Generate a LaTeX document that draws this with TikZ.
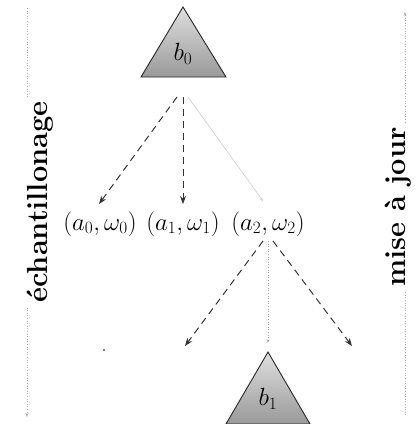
\documentclass[tikz,border=0pt]{standalone}
\usetikzlibrary{arrows.meta}
\begin{document}
\begin{tikzpicture}[x=1pt,y=-1pt,
  tri/.style={draw=black!85,line width=0.9pt,top color=gray!25,bottom color=gray!80,line join=miter},
  lbl/.style={font=\fontsize{23}{26}\selectfont,inner sep=0pt},
  blbl/.style={font=\fontsize{26}{30}\selectfont,inner sep=0pt},
  side/.style={font=\fontsize{29}{34}\selectfont\bfseries,rotate=90,inner sep=0pt,outer sep=5pt},
  dasharrow/.style={draw=black!80,line width=1pt,dash pattern=on 7pt off 5pt,-{Stealth[length=8pt,width=6pt]}},
  faint/.style={draw=gray!40,line width=0.6pt,-{Stealth[length=4pt,width=3pt]}},
  dotarrow/.style={draw=gray!70,line width=0.6pt,dotted,-{Stealth[length=4pt,width=3pt]}},
  sideline/.style={draw=gray!60,line width=0.6pt,dotted}]
\useasboundingbox (0,0) rectangle (417,424);
% root belief
\draw[tri] (183,7) -- (226,77) -- (141,77) -- cycle;
\node[blbl] (b0) at (183,54) {$b_0$};
\coordinate (r) at (183,97);
% children
\node[lbl] (a0) at (100,224) {$(a_0,\omega_0)$};
\node[lbl] (a1) at (183,224) {$(a_1,\omega_1)$};
\node[lbl] (a2) at (268,224) {$(a_2,\omega_2)$};
\coordinate (e0) at (99,204);
\coordinate (e1) at (183,204);
\coordinate (e2) at (263,201);
\draw[dasharrow] ([xshift=-6pt]r) -- (e0);
\draw[dasharrow] (r) -- (e1);
\draw[faint] ([xshift=5pt]r) -- (e2);
% second level
\coordinate (s) at (268,241);
\coordinate (l) at (185,346);
\coordinate (rr) at (352,346);
\coordinate (m) at (268,343);
\draw[dasharrow] ([xshift=-5pt]s) -- (l);
\draw[dotarrow] (s) -- (m);
\draw[dasharrow] ([xshift=5pt]s) -- (rr);
\fill[black!70] (104,350) circle (1.2pt);
% next belief
\draw[tri] (268,352) -- (310,424) -- (226,424) -- cycle;
\node[blbl] (b1) at (268,399) {$b_1$};
% side labels
\node[side] (ech) at (40,202) {échantillonage};
\node[side] (maj) at (398,207) {mise à jour};
\coordinate (lx) at (27,0);
\coordinate (rx) at (405,0);
\draw[sideline] (27,8) -- (lx |- ech.east);
\draw[sideline,-{Stealth[length=4pt,width=3pt]}] (lx |- ech.west) -- (27,417);
\draw[sideline,-{Stealth[length=4pt,width=3pt]}] (rx |- maj.east) -- (405,12);
\draw[sideline] (405,415) -- (rx |- maj.west);
\end{tikzpicture}
\end{document}
